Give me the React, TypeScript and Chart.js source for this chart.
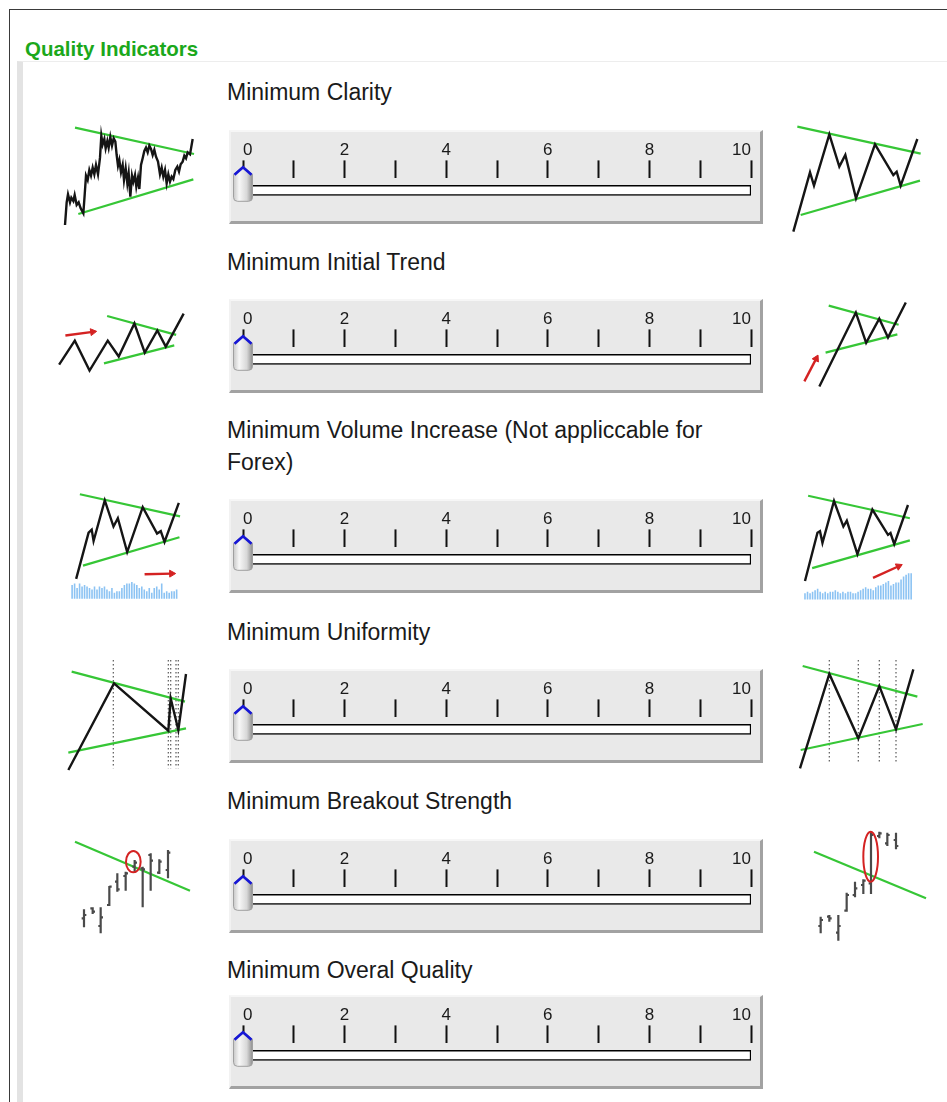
import React, { useEffect, useRef } from 'react';
import { Chart, registerables } from 'chart.js';

Chart.register(...registerables);

const FONT = '"Liberation Sans", Arial, Helvetica, sans-serif';

// ---------------- Slider data ----------------
const sliderNames = [
  'Minimum Clarity',
  'Minimum Initial Trend',
  'Minimum Volume Increase (Not appliccable for\nForex)',
  'Minimum Uniformity',
  'Minimum Breakout Strength',
  'Minimum Overal Quality',
];
const sliderValues = [0, 0, 0, 0, 0, 0];
const sliderRange = [0, 10];
const sliderTickLabels = ['0', '', '2', '', '4', '', '6', '', '8', '', '10'];
const sliderBands = ['track', ''];

// ---------------- Icon data (icon units) ----------------
type Pt = [number, number];

const clarityLeftPrice: Pt[] = [
  [45, 330], [50, 262], [54, 238], [60, 262], [64, 248], [70, 258], [74, 240], [80, 270], [86, 262], [92, 280],
  [100, 295], [104, 240], [108, 182], [113, 195], [118, 165], [123, 182], [128, 158], [133, 178], [138, 150],
  [144, 178], [150, 128], [154, 62], [158, 88], [163, 72], [167, 100], [172, 78], [176, 98], [181, 66], [186, 92],
  [191, 70], [196, 80], [200, 120], [204, 152], [208, 135], [213, 172], [218, 150], [222, 195], [227, 160],
  [232, 205], [236, 175], [241, 245], [246, 182], [250, 200], [255, 180], [259, 215], [264, 188], [268, 222],
  [273, 150], [278, 130], [283, 108], [288, 98], [293, 112], [298, 92], [303, 102], [308, 120], [313, 104],
  [318, 125], [324, 140], [330, 178], [335, 158], [340, 185], [345, 165], [350, 205], [355, 178], [360, 200],
  [365, 185], [370, 192], [376, 165], [382, 155], [387, 170], [392, 148], [398, 140], [403, 122], [408, 130],
  [413, 112], [420, 118], [428, 72],
];
const clarityLeftUpper: Pt[] = [[75, 38], [432, 117]];
const clarityLeftLower: Pt[] = [[85, 297], [430, 193]];

const clarityRightPrice: Pt[] = [
  [40, 350], [90, 172], [102, 212], [148, 58], [178, 155], [196, 120], [228, 250], [285, 88], [340, 180],
  [350, 170], [362, 212], [412, 72],
];
const clarityRightUpper: Pt[] = [[52, 35], [422, 116]];
const clarityRightLower: Pt[] = [[62, 300], [420, 197]];

const trendLeftPrice: Pt[] = [
  [45, 232], [95, 152], [142, 252], [200, 152], [235, 205], [285, 95], [318, 192], [358, 118], [385, 172], [442, 62],
];
const trendLeftUpper: Pt[] = [[198, 70], [418, 133]];
const trendLeftLower: Pt[] = [[188, 228], [412, 168]];
const trendLeftArrow: Pt[] = [[65, 135], [152, 123]];

const trendRightPrice: Pt[] = [[78, 302], [195, 58], [228, 158], [270, 78], [298, 140], [355, 25]];
const trendRightUpper: Pt[] = [[108, 35], [332, 98]];
const trendRightLower: Pt[] = [[98, 190], [328, 130]];
const trendRightArrow: Pt[] = [[30, 285], [68, 210]];

const volumeLeftPrice: Pt[] = [
  [68, 305], [108, 155], [118, 145], [124, 182], [160, 50], [188, 135], [202, 108], [232, 218], [282, 72],
  [328, 158], [340, 150], [352, 185], [398, 58],
];
const volumeLeftUpper: Pt[] = [[80, 30], [402, 102]];
const volumeLeftLower: Pt[] = [[90, 262], [400, 170]];
const volumeLeftArrow: Pt[] = [[288, 290], [375, 288]];
const volumeLeftBars = [
  45, 50, 35, 50, 40, 45, 40, 35, 30, 40, 30, 40, 35, 40, 30, 25, 35, 20, 25, 25, 35, 45, 50, 50, 55, 50, 45,
  35, 40, 30, 25, 35, 20, 35, 40, 30, 50, 20, 25, 20, 25, 25, 30,
];

const volumeRightPrice: Pt[] = [
  [32, 312], [72, 155], [80, 150], [88, 188], [125, 52], [155, 135], [166, 116], [200, 225], [248, 80],
  [298, 162], [306, 156], [318, 192], [362, 65],
];
const volumeRightUpper: Pt[] = [[42, 35], [368, 108]];
const volumeRightLower: Pt[] = [[55, 270], [368, 180]];
const volumeRightArrow: Pt[] = [[250, 302], [332, 264]];
const volumeRightBars = [
  20, 25, 20, 25, 30, 35, 25, 20, 25, 20, 25, 25, 30, 25, 20, 25, 20, 25, 25, 20, 20, 25, 30, 35, 40, 35, 35,
  30, 40, 45, 45, 50, 55, 60, 45, 50, 55, 55, 65, 75, 80, 85, 85,
];

const uniformLeftPrice: Pt[] = [[55, 360], [192, 100], [355, 242], [362, 145], [385, 240], [408, 72]];
const uniformLeftUpper: Pt[] = [[65, 65], [405, 155]];
const uniformLeftLower: Pt[] = [[55, 308], [408, 235]];
const uniformLeftMarks = [[190, 30, 355], [355, 30, 355], [362, 30, 355], [378, 30, 355], [385, 30, 355]];

const uniformRightPrice: Pt[] = [[30, 355], [118, 72], [205, 265], [268, 108], [318, 238], [370, 58]];
const uniformRightUpper: Pt[] = [[38, 48], [382, 140]];
const uniformRightLower: Pt[] = [[32, 300], [398, 222]];
const uniformRightMarks = [[118, 30, 335], [205, 30, 335], [268, 30, 335], [318, 30, 335]];

// OHLC: [x, high, low, open, close]
const breakoutLeftBars = [
  [72, 268, 322, 295, 285], [98, 262, 282, 265, 275], [122, 262, 340, 318, 292], [148, 198, 258, 255, 200],
  [172, 160, 215, 185, 208], [197, 155, 212, 168, 160], [224, 120, 158, 140, 128], [248, 140, 262, 145, 148],
  [272, 100, 212, 105, 122], [298, 118, 162, 158, 125], [324, 90, 175, 150, 98],
];
const breakoutLeftLine: Pt[] = [[45, 65], [390, 212]];
const breakoutLeftRing = [220, 125, 22, 32];

const breakoutRightBars = [
  [92, 290, 340, 318, 300], [118, 285, 305, 290, 295], [145, 285, 362, 338, 318], [170, 218, 275, 272, 225],
  [195, 185, 232, 225, 205], [220, 178, 222, 195, 182], [243, 35, 222, 190, 45], [268, 35, 55, 48, 40],
  [292, 38, 78, 70, 45], [318, 38, 88, 60, 78],
];
const breakoutRightLine: Pt[] = [[72, 95], [408, 235]];
const breakoutRightRing = [242, 110, 22, 75];

// ---------------- Layout ----------------
const labelTops = [76, 246, 414, 616, 785, 954];
const boxTops = [130, 299, 499, 669, 839, 995];
const BOX_LEFT = 229;
const BOX_W = 534;
const BOX_H = 94;
const CANVAS_H = 98;

type IconSpec = {
  box: [number, number, number, number];
  price?: Pt[];
  green?: Pt[][];
  arrow?: Pt[];
  volume?: { heights: number[]; base: number; start: number; step: number };
  marks?: number[][];
  bars?: number[][];
  ring?: number[];
};

const icons: IconSpec[] = [
  { box: [50, 115, 160, 120], price: clarityLeftPrice, green: [clarityLeftUpper, clarityLeftLower] },
  { box: [780, 115, 167, 125], price: clarityRightPrice, green: [clarityRightUpper, clarityRightLower] },
  { box: [40, 290, 170, 100], price: trendLeftPrice, green: [trendLeftUpper, trendLeftLower], arrow: trendLeftArrow },
  { box: [790, 290, 157, 110], price: trendRightPrice, green: [trendRightUpper, trendRightLower], arrow: trendRightArrow },
  {
    box: [50, 480, 150, 130], price: volumeLeftPrice, green: [volumeLeftUpper, volumeLeftLower], arrow: volumeLeftArrow,
    volume: { heights: volumeLeftBars, base: 370, start: 55, step: 8 },
  },
  {
    box: [790, 480, 157, 130], price: volumeRightPrice, green: [volumeRightUpper, volumeRightLower], arrow: volumeRightArrow,
    volume: { heights: volumeRightBars, base: 372, start: 32, step: 8.1 },
  },
  { box: [50, 650, 150, 130], price: uniformLeftPrice, green: [uniformLeftUpper, uniformLeftLower], marks: uniformLeftMarks },
  { box: [790, 650, 157, 130], price: uniformRightPrice, green: [uniformRightUpper, uniformRightLower], marks: uniformRightMarks },
  { box: [60, 820, 150, 130], bars: breakoutLeftBars, green: [breakoutLeftLine], ring: breakoutLeftRing },
  { box: [790, 820, 157, 130], bars: breakoutRightBars, green: [breakoutRightLine], ring: breakoutRightRing },
];

const toXY = (pts: Pt[]) => pts.map(([x, y]) => ({ x, y }));

function lineDs(data: any[], color: string, width: number, extra: any = {}) {
  return {
    type: 'line',
    data,
    borderColor: color,
    backgroundColor: color,
    borderWidth: width,
    pointRadius: 0,
    fill: false,
    tension: 0,
    spanGaps: false,
    clip: false,
    ...extra,
  };
}

function buildDatasets(spec: IconSpec) {
  const ds: any[] = [];
  if (spec.price) ds.push(lineDs(toXY(spec.price), '#151515', 2.4));
  if (spec.bars) {
    const pts: any[] = [];
    const t = 7;
    spec.bars.forEach(([x, hi, lo, op, cl]) => {
      pts.push({ x, y: hi }, { x, y: lo }, { x, y: null });
      pts.push({ x: x - t, y: op }, { x, y: op }, { x, y: null });
      pts.push({ x, y: cl }, { x: x + t, y: cl }, { x, y: null });
    });
    ds.push(lineDs(pts, '#4a4a4a', 2.2, { borderCapStyle: 'butt' }));
  }
  if (spec.arrow) {
    const [[x1, y1], [x2, y2]] = spec.arrow;
    const angle = (Math.atan2(x2 - x1, -(y2 - y1)) * 180) / Math.PI;
    ds.push(
      lineDs(toXY(spec.arrow), '#d42222', 2.4, {
        pointStyle: 'triangle',
        pointRadius: (c: any) => (c.dataIndex === 1 ? 4 : 0),
        pointRotation: angle,
        pointBackgroundColor: '#d42222',
        pointBorderColor: '#d42222',
        pointBorderWidth: 1,
      })
    );
  }
  (spec.green || []).forEach((g) => ds.push(lineDs(toXY(g), '#36c636', 2.2)));
  if (spec.marks) {
    const pts: any[] = [];
    spec.marks.forEach(([x, a, b]) => pts.push({ x, y: a }, { x, y: b }, { x, y: null }));
    ds.push(lineDs(pts, '#666', 1.3, { borderDash: [1.5, 2.5] }));
  }
  if (spec.volume) {
    const v = spec.volume;
    const pts: any[] = [];
    v.heights.forEach((h, i) => {
      const x = v.start + i * v.step;
      pts.push({ x, y: v.base }, { x, y: v.base - h }, { x, y: null });
    });
    ds.push(lineDs(pts, '#8cc3f3', 1.6, { borderCapStyle: 'butt' }));
  }
  return ds;
}

function Icon({ spec }: { spec: IconSpec }) {
  const ref = useRef<HTMLCanvasElement | null>(null);
  useEffect(() => {
    if (!ref.current) return;
    const [, , w, h] = spec.box;
    const ringPlugin = {
      id: 'ring',
      afterDatasetsDraw(chart: any) {
        if (!spec.ring) return;
        const [cx, cy, rx, ry] = spec.ring;
        const xs = chart.scales.x;
        const ys = chart.scales.y;
        const px = xs.getPixelForValue(cx);
        const py = ys.getPixelForValue(cy);
        const prx = Math.abs(xs.getPixelForValue(cx + rx) - px);
        const pry = Math.abs(ys.getPixelForValue(cy + ry) - py);
        const ctx = chart.ctx;
        ctx.save();
        ctx.beginPath();
        ctx.ellipse(px, py, prx, pry, 0, 0, Math.PI * 2);
        ctx.strokeStyle = '#d42222';
        ctx.lineWidth = 2;
        ctx.stroke();
        ctx.restore();
      },
    };
    const chart = new Chart(ref.current, {
      type: 'line',
      data: { datasets: buildDatasets(spec) },
      options: {
        animation: false,
        responsive: true,
        maintainAspectRatio: false,
        events: [],
        layout: { padding: 0 },
        plugins: { legend: { display: false }, tooltip: { enabled: false } },
        scales: {
          x: { type: 'linear', display: false, min: 0, max: w * 3 },
          y: { type: 'linear', display: false, min: 0, max: h * 3, reverse: true },
        },
      },
      plugins: [ringPlugin],
    } as any);
    return () => chart.destroy();
  }, [spec]);
  const [x, y, w, h] = spec.box;
  return (
    <div style={{ position: 'absolute', left: x, top: y, width: w, height: h }}>
      <canvas ref={ref} />
    </div>
  );
}

function Slider({ index }: { index: number }) {
  const ref = useRef<HTMLCanvasElement | null>(null);
  useEffect(() => {
    if (!ref.current) return;
    const value = sliderValues[index];
    const thumbPlugin = {
      id: 'thumb',
      afterDatasetsDraw(chart: any) {
        const ctx = chart.ctx;
        const xs = chart.scales.x;
        const el: any = chart.getDatasetMeta(0).data[0];
        const cy = el.y;
        const cx = xs.getPixelForValue(value);
        const hw = 9.5;
        const top = cy - 16;
        const bot = cy + 11;
        const r = 4;
        const peak = 8;
        ctx.save();
        const g = ctx.createLinearGradient(cx - hw, 0, cx + hw, 0);
        g.addColorStop(0, '#c8c8c8');
        g.addColorStop(0.3, '#f7f7f7');
        g.addColorStop(0.7, '#d8d8d8');
        g.addColorStop(1, '#8e8e8e');
        ctx.beginPath();
        ctx.moveTo(cx - hw, top);
        ctx.lineTo(cx, top - peak);
        ctx.lineTo(cx + hw, top);
        ctx.lineTo(cx + hw, bot - r);
        ctx.quadraticCurveTo(cx + hw, bot, cx + hw - r, bot);
        ctx.lineTo(cx - hw + r, bot);
        ctx.quadraticCurveTo(cx - hw, bot, cx - hw, bot - r);
        ctx.closePath();
        ctx.fillStyle = g;
        ctx.fill();
        ctx.strokeStyle = '#a0a0a0';
        ctx.lineWidth = 1;
        ctx.stroke();
        ctx.beginPath();
        ctx.moveTo(cx - hw + 1, top + 0.5);
        ctx.lineTo(cx, top - peak + 1);
        ctx.lineTo(cx + hw - 1, top + 0.5);
        ctx.strokeStyle = '#1616d6';
        ctx.lineWidth = 2.6;
        ctx.stroke();
        ctx.restore();
      },
    };
    const chart = new Chart(ref.current, {
      type: 'bar',
      data: {
        labels: sliderBands,
        datasets: [
          {
            data: [[sliderRange[0], sliderRange[1]], null],
            backgroundColor: '#ffffff',
            borderColor: '#000000',
            borderWidth: 1.5,
            borderSkipped: false,
            barThickness: 10,
          },
        ],
      },
      options: {
        indexAxis: 'y',
        animation: false,
        responsive: true,
        maintainAspectRatio: false,
        events: [],
        layout: { padding: { left: 14, right: 12, top: 10, bottom: 2 } },
        plugins: { legend: { display: false }, tooltip: { enabled: false } },
        scales: {
          x: {
            type: 'linear',
            position: 'top',
            min: sliderRange[0],
            max: sliderRange[1],
            border: { display: false },
            grid: { drawOnChartArea: false, drawTicks: true, tickLength: 18, tickWidth: 2, tickColor: '#111' },
            ticks: {
              stepSize: 1,
              autoSkip: false,
              padding: 0,
              align: 'inner',
              color: '#1a1a1a',
              font: { family: FONT, size: 17 },
              callback: (_v: any, i: number) => sliderTickLabels[i] ?? '',
            },
          },
          y: { display: false },
        },
      },
      plugins: [thumbPlugin],
    } as any);
    return () => chart.destroy();
  }, [index]);
  const top = boxTops[index];
  return (
    <>
      <div
        style={{
          position: 'absolute',
          left: BOX_LEFT,
          top,
          width: BOX_W,
          height: BOX_H,
          boxSizing: 'border-box',
          background: '#e9e9e9',
          borderTop: '2px solid #f6f6f6',
          borderLeft: '2px solid #f2f2f2',
          borderRight: '3px solid #a2a2a2',
          borderBottom: '3px solid #a2a2a2',
        }}
      />
      <div style={{ position: 'absolute', left: BOX_LEFT, top, width: BOX_W, height: CANVAS_H }}>
        <canvas ref={ref} />
      </div>
      <div
        style={{
          position: 'absolute',
          left: 227,
          top: labelTops[index],
          fontSize: 23,
          lineHeight: '32px',
          color: '#1a1a1a',
          whiteSpace: 'pre-line',
          fontFamily: FONT,
        }}
      >
        {sliderNames[index]}
      </div>
    </>
  );
}

export default function App() {
  return (
    <div
      style={{
        position: 'absolute',
        left: 0,
        top: 0,
        width: 947,
        height: 1102,
        overflow: 'hidden',
        background: '#ffffff',
        fontFamily: FONT,
      }}
    >
      <div
        style={{
          position: 'absolute',
          left: 9,
          top: 9,
          width: 1000,
          height: 1200,
          border: '1px solid #3a3a3a',
        }}
      />
      <div
        style={{
          position: 'absolute',
          left: 25,
          top: 37,
          fontSize: 20.5,
          lineHeight: '24px',
          fontWeight: 'bold',
          color: '#1ba81b',
          fontFamily: FONT,
        }}
      >
        Quality Indicators
      </div>
      <div
        style={{
          position: 'absolute',
          left: 17,
          top: 61,
          width: 1000,
          height: 1200,
          borderLeft: '6px solid #e3e3e3',
          borderTop: '1px solid #ededed',
        }}
      />
      {sliderNames.map((_, i) => (
        <Slider key={i} index={i} />
      ))}
      {icons.map((s, i) => (
        <Icon key={i} spec={s} />
      ))}
    </div>
  );
}
